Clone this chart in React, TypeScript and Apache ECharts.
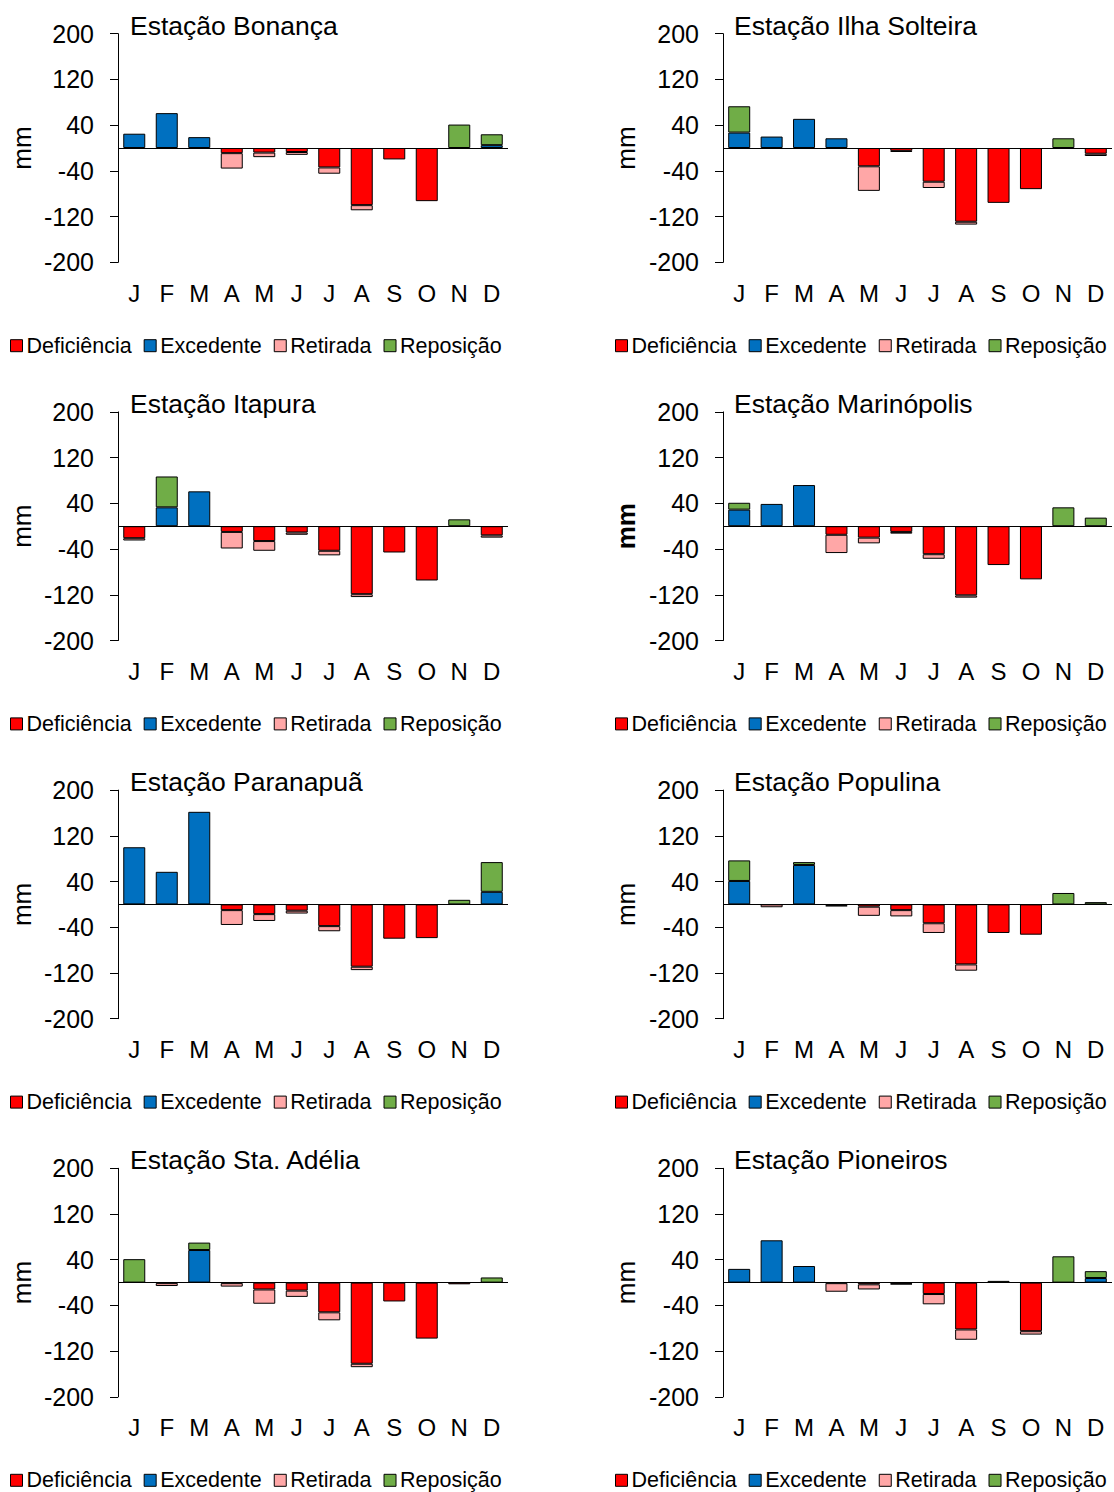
import React, { useEffect, useRef } from "react";
import * as echarts from "echarts";

const MONTHS = ["J", "F", "M", "A", "M", "J", "J", "A", "S", "O", "N", "D"];
const Y_MIN = -200;
const Y_MAX = 200;
const Y_INTERVAL = 80;
const SERIES_NAMES = ["Deficiência", "Excedente", "Retirada", "Reposição"];
const SERIES_COLORS = ["#FF0000", "#0070C0", "#FFA7A7", "#70AD47"];
const STATIONS = [
  "Estação Bonança",
  "Estação Ilha Solteira",
  "Estação Itapura",
  "Estação Marinópolis",
  "Estação Paranapuã",
  "Estação Populina",
  "Estação Sta. Adélia",
  "Estação Pioneiros",
];

// Bonança
const bonancaDef = [0, 0, 0, -9, -8, -7, -34, -100, -20, -93, 0, 0];
const bonancaExc = [25, 61, 19, 0, 0, 0, 0, 0, 0, 0, 0, 5];
const bonancaRet = [0, 0, 0, -27, -8, -5, -11, -9, 0, 0, 0, 0];
const bonancaRep = [0, 0, 0, 0, 0, 0, 0, 0, 0, 0, 41, 19];
// Ilha Solteira
const ilhaDef = [0, 0, 0, 0, -32, -5, -59, -129, -96, -72, 0, -10];
const ilhaExc = [27, 20, 51, 17, 0, 0, 0, 0, 0, 0, 0, 0];
const ilhaRet = [0, 0, 0, 0, -43, -2, -11, -5, 0, 0, 0, -4];
const ilhaRep = [46, 0, 0, 0, 0, 0, 0, 0, 0, 0, 17, 0];
// Itapura
const itapuraDef = [-21, 0, 0, -10, -26, -11, -43, -119, -46, -95, 0, -16];
const itapuraExc = [0, 33, 61, 0, 0, 0, 0, 0, 0, 0, 0, 0];
const itapuraRet = [-4, 0, 0, -29, -17, -4, -8, -5, 0, 0, 0, -4];
const itapuraRep = [0, 54, 0, 0, 0, 0, 0, 0, 0, 0, 12, 0];
// Marinópolis
const marinDef = [0, 0, 0, -15, -20, -10, -49, -121, -68, -93, 0, 0];
const marinExc = [29, 39, 72, 0, 0, 0, 0, 0, 0, 0, 0, 0];
const marinRet = [0, 0, 0, -32, -10, -3, -8, -4, 0, 0, 0, 0];
const marinRep = [12, 0, 0, 0, 0, 0, 0, 0, 0, 0, 33, 15];
// Paranapuã
const paranaDef = [0, 0, 0, -10, -17, -11, -38, -109, -60, -59, 0, 0];
const paranaExc = [100, 57, 162, 0, 0, 0, 0, 0, 0, 0, 0, 22];
const paranaRet = [0, 0, 0, -26, -12, -5, -9, -6, 0, 0, 0, 0];
const paranaRep = [0, 0, 0, 0, 0, 0, 0, 0, 0, 0, 8, 52];
// Populina
const populDef = [0, 0, 0, -2, -4, -10, -33, -105, -50, -53, 0, 0];
const populExc = [41, 0, 69, 0, 0, 0, 0, 0, 0, 0, 0, 0];
const populRet = [0, -5, 0, -1, -16, -11, -17, -11, 0, 0, 0, 0];
const populRep = [36, 0, 5, 0, 0, 0, 0, 0, 0, 0, 20, 4];
// Sta. Adélia
const adeliaDef = [0, -1, 0, -1, -12, -14, -52, -142, -33, -98, -3, 0];
const adeliaExc = [0, 0, 57, 0, 0, 0, 0, 0, 0, 0, 0, 0];
const adeliaRet = [0, -5, 0, -6, -25, -11, -14, -6, 0, 0, 0, 0];
const adeliaRep = [41, 0, 13, 0, 0, 0, 0, 0, 0, 0, 0, 9];
// Pioneiros
const pionDef = [0, 0, 0, -1, -3, -2, -20, -82, 0, -85, 0, 0];
const pionExc = [24, 74, 29, 0, 0, 0, 0, 0, 0, 0, 0, 8];
const pionRet = [0, 0, 0, -15, -9, -1, -18, -18, 0, -6, 0, 0];
const pionRep = [0, 0, 0, 0, 0, 0, 0, 0, 3, 0, 46, 12];

const STATION_DATA = [
  [bonancaDef, bonancaExc, bonancaRet, bonancaRep],
  [ilhaDef, ilhaExc, ilhaRet, ilhaRep],
  [itapuraDef, itapuraExc, itapuraRet, itapuraRep],
  [marinDef, marinExc, marinRet, marinRep],
  [paranaDef, paranaExc, paranaRet, paranaRep],
  [populDef, populExc, populRet, populRep],
  [adeliaDef, adeliaExc, adeliaRet, adeliaRep],
  [pionDef, pionExc, pionRet, pionRep],
];

const BOLD_MM_PANEL = 3;
const FONT = "'Liberation Sans', Arial, sans-serif";

export default function App() {
  const ref = useRef<HTMLDivElement>(null);

  useEffect(() => {
    document.body.style.margin = "0";
    const chart = echarts.init(ref.current as HTMLDivElement, null, { renderer: "svg" });

    const grids: any[] = [];
    const xAxes: any[] = [];
    const yAxes: any[] = [];
    const series: any[] = [];
    const legends: any[] = [];
    const graphics: any[] = [];

    STATIONS.forEach((station, i) => {
      const col = i % 2;
      const row = Math.floor(i / 2);
      const left = col === 0 ? 118 : 723;
      const width = col === 0 ? 390 : 389;
      const top = 33.7 + row * 378.2;
      const height = 228.6;

      grids.push({ left, top, width, height });
      xAxes.push({
        type: "category",
        gridIndex: i,
        data: MONTHS,
        axisLine: { show: false, onZero: false },
        axisTick: { show: false },
        splitLine: { show: false },
        axisLabel: { interval: 0, fontSize: 24, color: "#000", margin: 19, fontFamily: FONT },
      });
      yAxes.push({
        type: "value",
        gridIndex: i,
        min: Y_MIN,
        max: Y_MAX,
        interval: Y_INTERVAL,
        axisLine: { show: true, lineStyle: { color: "#000", width: 1 } },
        axisTick: { show: true, inside: false, length: 8, lineStyle: { color: "#000", width: 1 } },
        splitLine: { show: false },
        axisLabel: { fontSize: 25, color: "#000", margin: 24, fontFamily: FONT },
      });

      STATION_DATA[i].forEach((vals, k) => {
        const s: any = {
          type: "bar",
          name: SERIES_NAMES[k],
          xAxisIndex: i,
          yAxisIndex: i,
          stack: "st" + i,
          barWidth: 22,
          data: vals.map((v) => (v === 0 ? "-" : v)),
          itemStyle: { color: SERIES_COLORS[k], borderColor: "#000", borderWidth: 1 },
        };
        if (k === 0) {
          s.markLine = {
            silent: true,
            symbol: "none",
            label: { show: false },
            lineStyle: { color: "#000", width: 1, type: "solid" },
            data: [{ yAxis: 0 }],
            z: 10,
          };
        }
        series.push(s);
      });

      legends.push({
        left: col === 0 ? 10 : 615,
        top: top + 312 - 11,
        padding: 0,
        itemWidth: 12,
        itemHeight: 12,
        itemGap: 12,
        icon: "rect",
        selectedMode: false,
        data: SERIES_NAMES,
        itemStyle: { borderColor: "#000", borderWidth: 1 },
        textStyle: { fontSize: 21.5, color: "#000", fontFamily: FONT, padding: [0, 0, 0, -1] },
      });

      graphics.push({
        type: "text",
        x: col === 0 ? 130 : 734,
        y: top - 8,
        style: {
          text: station,
          fontSize: 26.5,
          fontFamily: FONT,
          fill: "#000",
          textAlign: "left",
          textVerticalAlign: "middle",
          align: "left",
          verticalAlign: "middle",
        },
      });
      graphics.push({
        type: "text",
        x: col === 0 ? 21.5 : 626,
        y: top + height / 2,
        rotation: Math.PI / 2,
        style: {
          text: "mm",
          fontSize: 26,
          fontWeight: i === BOLD_MM_PANEL ? "bold" : "normal",
          fontFamily: FONT,
          fill: "#000",
          textAlign: "center",
          textVerticalAlign: "middle",
          align: "center",
          verticalAlign: "middle",
        },
      });
    });

    chart.setOption({
      animation: false,
      backgroundColor: "#fff",
      textStyle: { fontFamily: FONT },
      grid: grids,
      xAxis: xAxes,
      yAxis: yAxes,
      series,
      legend: legends,
      graphic: graphics,
    });

    return () => chart.dispose();
  }, []);

  return <div ref={ref} style={{ width: 1114, height: 1492 }} />;
}
